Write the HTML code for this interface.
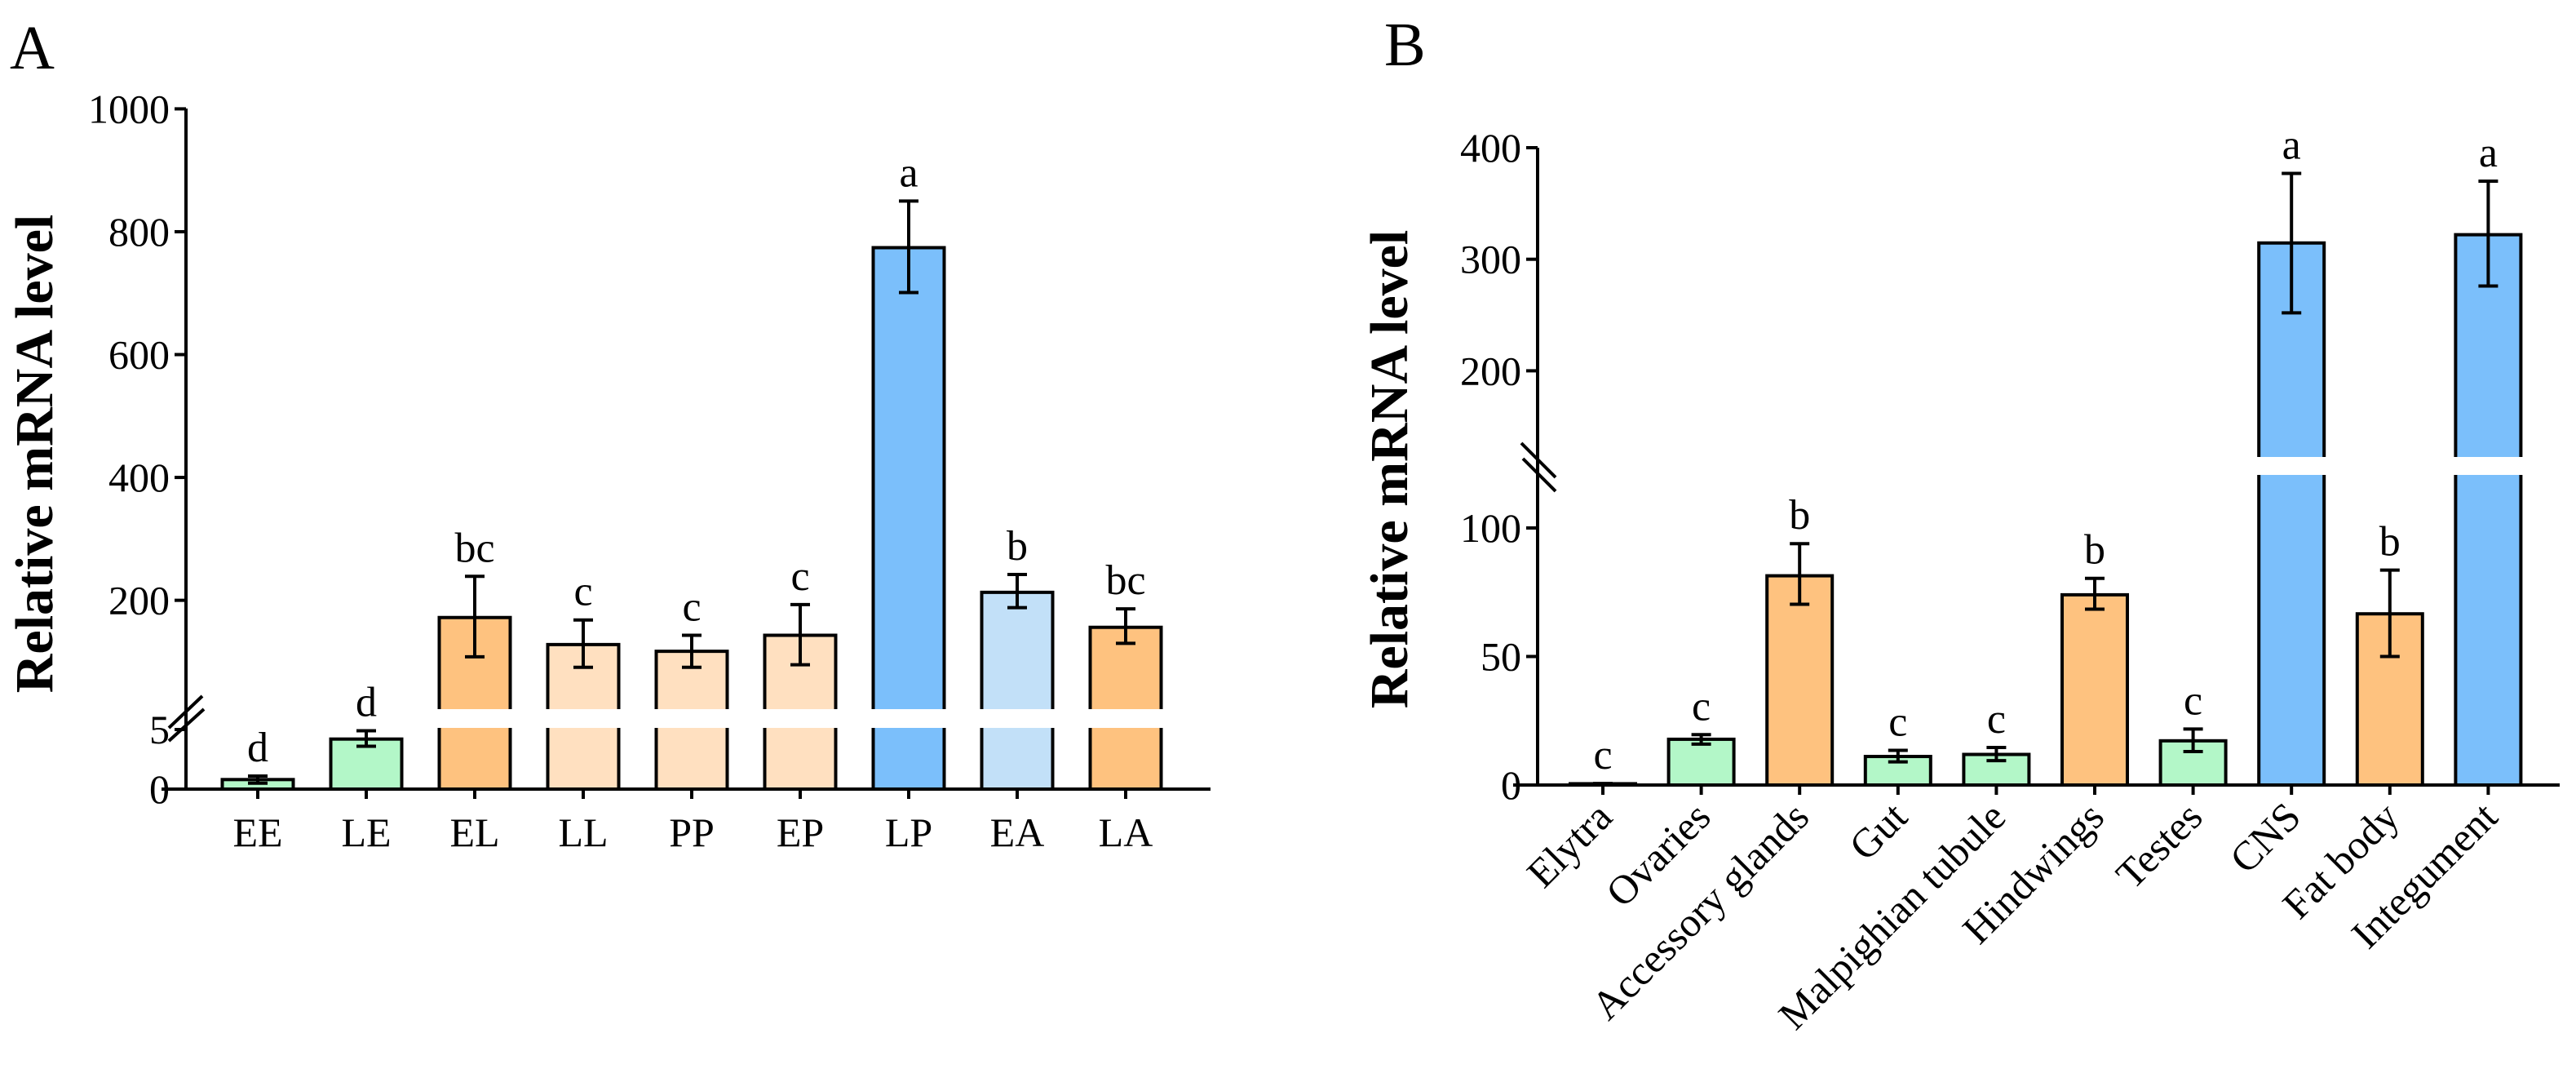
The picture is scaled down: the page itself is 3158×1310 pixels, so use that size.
<!DOCTYPE html>
<html><head><meta charset="utf-8"><style>
html,body{margin:0;padding:0;background:#fff}
svg{display:block}
svg text{font-family:"Liberation Serif","DejaVu Serif",serif;fill:#000}
</style></head><body>
<svg id="fig" width="3158" height="1310" viewBox="0 0 3158 1310" xmlns="http://www.w3.org/2000/svg" font-family="Liberation Serif, DejaVu Serif, serif">
<rect width="3158" height="1310" fill="#fff"/>
<text x="12" y="84" font-size="76" font-family="Liberation Serif, serif">A</text>
<text x="1697" y="80" font-size="76" font-family="Liberation Serif, serif">B</text>
<g id="pa"></g>
<g id="pb"></g>
</svg>
<script>
// Panel A data
const catsA = ["EE","LE","EL","LL","PP","EP","LP","EA","LA"];
const valsA = [0.8,4.2,172,128,117,143,774,213,156];
const errHiA = [1.1,4.9,239,168,143,193,850,242,186];
const errLoA = [0.5,3.6,108,91,91,95,701,188,130];
const letA = ["d","d","bc","c","c","c","a","b","bc"];
const colA = ["#b3f7c8","#b3f7c8","#fec27f","#ffe0c0","#ffe0c0","#ffe0c0","#7bbffb","#c2e0f8","#fec27f"];
const ticksAUp = [200,400,600,800,1000];
const ticksALo = [0,5];
// Panel B data
const catsB = ["Elytra","Ovaries","Accessory glands","Gut","Malpighian tubule","Hindwings","Testes","CNS","Fat body","Integument"];
const valsB = [0.5,17.8,81.4,11.1,11.9,74,17.2,314.6,66.6,322];
const errHiB = [0.6,19.6,93.9,13.5,14.6,80.4,21.8,377,83.6,370];
const errLoB = [0.4,15.9,70.3,9,9.5,68.4,13,252,50,276];
const letB = ["c","c","b","c","c","b","c","a","b","a"];
const colB = ["#b3f7c8","#b3f7c8","#fec27f","#b3f7c8","#b3f7c8","#fec27f","#b3f7c8","#7bbffb","#fec27f","#7bbffb"];
const ticksBUp = [200,300,400];
const ticksBLo = [0,50,100];

const NS="http://www.w3.org/2000/svg";
const FF="Liberation Serif, DejaVu Serif, serif";
function mk(parent,tag,attrs,txt){const e=document.createElementNS(NS,tag);for(const k in attrs)e.setAttribute(k,attrs[k]);if(tag==='text')e.setAttribute('font-family',FF);if(txt!==undefined)e.textContent=txt;parent.appendChild(e);return e;}

function drawPanel(g,cfg){
  const {cats,vals,hi,lo,lets,cols,tUp,tLo,yUp,yLo,cut,gapTop,gapBot,axX,base,top,x0,dx,bw,xEnd,rot}=cfg;
  const Y=v=> v>cut ? yUp(v) : yLo(v);
  cats.forEach((c,i)=>{
    const cx=x0+dx*i, v=vals[i], x=cx-bw/2;
    if(v>cut){
      const r1=mk(g,'rect',{x:x,y:gapBot,width:bw,height:base-gapBot,fill:cols[i],stroke:'none'});
      
      
      mk(g,'path',{d:`M${x},${base}V${gapBot}M${x+bw},${gapBot}V${base}`,stroke:'#000','stroke-width':4,fill:'none'});
      const r2=mk(g,'rect',{x:x,y:yUp(v),width:bw,height:gapTop-yUp(v),fill:cols[i],stroke:'none'});
      
      
      mk(g,'path',{d:`M${x},${gapTop}V${yUp(v)}H${x+bw}V${gapTop}`,stroke:'#000','stroke-width':4,fill:'none'});
    } else {
      const r=mk(g,'rect',{x:x,y:yLo(v),width:bw,height:base-yLo(v),fill:cols[i],stroke:'#000','stroke-width':4});
      
      
    }
    const yh=Y(hi[i]), yl=Y(lo[i]);
    const eb=mk(g,'path',{d:`M${cx},${yh}V${yl}M${cx-12},${yh}H${cx+12}M${cx-12},${yl}H${cx+12}`,stroke:'#000','stroke-width':4,fill:'none'});
    
    
    const lt=mk(g,'text',{x:cx,y:yh-18,'font-size':52,'text-anchor':'middle'},lets[i]);
    
    
    mk(g,'line',{x1:cx,y1:base,x2:cx,y2:base+12,stroke:'#000','stroke-width':4});
    let xl;
    if(rot){ xl=mk(g,'text',{x:0,y:0,'font-size':50,'text-anchor':'end',transform:`translate(${cx+14},${base+42}) rotate(-45)`},c); }
    else { xl=mk(g,'text',{x:cx,y:base+70,'font-size':50,'text-anchor':'middle'},c); }
    
    
  });
  const ya=mk(g,'line',{x1:axX,y1:top,x2:axX,y2:base+2,stroke:'#000','stroke-width':4});
  
  
  const xa=mk(g,'line',{x1:axX-30,y1:base,x2:xEnd,y2:base,stroke:'#000','stroke-width':4});
  
  
  tUp.forEach(t=>{const y=yUp(t);mk(g,'line',{x1:axX-14,y1:y,x2:axX,y2:y,stroke:'#000','stroke-width':4});
    const tl=mk(g,'text',{x:axX-20,y:y+17,'font-size':50,'text-anchor':'end'},t);
    
    });
  tLo.forEach(t=>{const y=yLo(t);mk(g,'line',{x1:axX-14,y1:y,x2:axX,y2:y,stroke:'#000','stroke-width':4});
    const tl=mk(g,'text',{x:axX-20,y:y+17,'font-size':50,'text-anchor':'end'},t);
    
    });
}

const pa=document.getElementById('pa');
const aUp=v=>133.4+(1000-v)*0.7528, aLo=v=>967-v*14.6;
drawPanel(pa,{cats:catsA,vals:valsA,hi:errHiA,lo:errLoA,lets:letA,cols:colA,tUp:ticksAUp,tLo:ticksALo,
  yUp:aUp,yLo:aLo,cut:6,gapTop:869,gapBot:892,axX:228,base:967,top:133,x0:316,dx:133,bw:87,xEnd:1484,rot:false});
mk(pa,'path',{d:'M207,892L248,853M207,908L250,869',stroke:'#000','stroke-width':4,fill:'none'});
const ta=mk(pa,'text',{x:0,y:0,'font-size':66,'font-weight':'bold','text-anchor':'middle',transform:'translate(64,556) rotate(-90)'},'Relative mRNA level');



const pb=document.getElementById('pb');
const bUp=v=>181+(400-v)*1.367, bLo=v=>962-v*3.15;
drawPanel(pb,{cats:catsB,vals:valsB,hi:errHiB,lo:errLoB,lets:letB,cols:colB,tUp:ticksBUp,tLo:ticksBLo,
  yUp:bUp,yLo:bLo,cut:121,gapTop:560,gapBot:582,axX:1885,base:962,top:181,x0:1965,dx:120.6,bw:80,xEnd:3138,rot:true});
mk(pb,'path',{d:'M1865,543L1907,585M1867,562L1907,602',stroke:'#000','stroke-width':4,fill:'none'});
const tb=mk(pb,'text',{x:0,y:0,'font-size':66,'font-weight':'bold','text-anchor':'middle',transform:'translate(1725,575) rotate(-90)'},'Relative mRNA level');


</script>
</body></html>
